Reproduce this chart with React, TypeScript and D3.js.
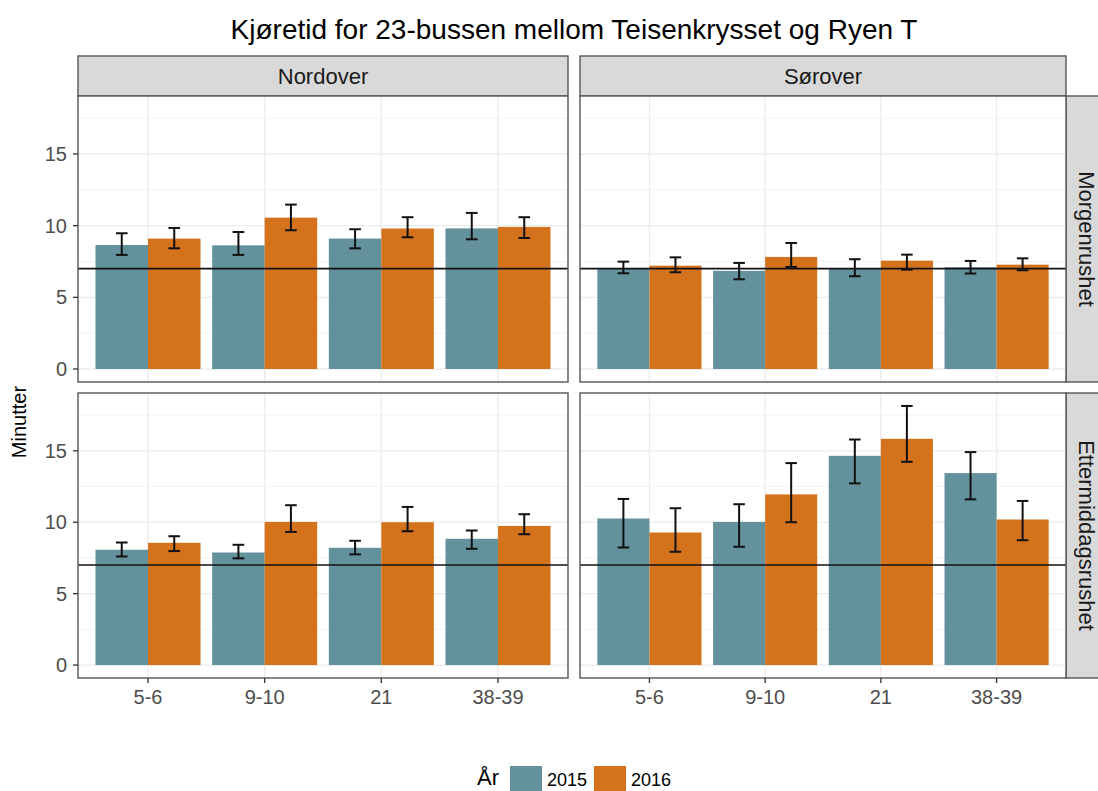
import React from "react";
import * as d3 from "d3";

const title = "Kjøretid for 23-bussen mellom Teisenkrysset og Ryen T";
const categories = ["5-6", "9-10", "21", "38-39"];
const directions = ["Nordover", "Sørover"];
const periods = ["Morgenrushet", "Ettermiddagsrushet"];
const years = ["2015", "2016"];
const referenceLine = 7;
const yTicks = [0, 5, 10, 15];
const yMinorTicks = [2.5, 7.5, 12.5, 17.5];

// Mean travel time (minutes): [direction][period][year]
const nordMorgen2015 = [8.65, 8.63, 9.1, 9.81];
const nordMorgen2016 = [9.1, 10.56, 9.8, 9.91];
const sorMorgen2015 = [7.05, 6.85, 7.02, 7.1];
const sorMorgen2016 = [7.21, 7.82, 7.56, 7.28];
const nordEtter2015 = [8.07, 7.88, 8.21, 8.84];
const nordEtter2016 = [8.56, 10.02, 10.0, 9.74];
const sorEtter2015 = [10.26, 10.02, 14.65, 13.44];
const sorEtter2016 = [9.28, 11.95, 15.84, 10.19];

// Error bar lower / upper
const nordMorgen2015Lo = [7.96, 7.96, 8.42, 9.05];
const nordMorgen2015Hi = [9.47, 9.56, 9.75, 10.89];
const nordMorgen2016Lo = [8.42, 9.68, 9.19, 9.14];
const nordMorgen2016Hi = [9.84, 11.47, 10.59, 10.59];
const sorMorgen2015Lo = [6.68, 6.26, 6.47, 6.66];
const sorMorgen2015Hi = [7.49, 7.4, 7.66, 7.54];
const sorMorgen2016Lo = [6.75, 7.12, 6.93, 6.89];
const sorMorgen2016Hi = [7.79, 8.79, 7.98, 7.72];
const nordEtter2015Lo = [7.6, 7.47, 7.75, 8.14];
const nordEtter2015Hi = [8.58, 8.42, 8.7, 9.42];
const nordEtter2016Lo = [7.98, 9.32, 9.37, 9.16];
const nordEtter2016Hi = [9.02, 11.19, 11.07, 10.56];
const sorEtter2015Lo = [8.23, 8.28, 12.72, 11.6];
const sorEtter2015Hi = [11.63, 11.26, 15.79, 14.91];
const sorEtter2016Lo = [7.93, 10.0, 14.23, 8.74];
const sorEtter2016Hi = [10.98, 14.14, 18.14, 11.49];

const panelData = [
  // row 0: Morgenrushet
  [
    { v: [nordMorgen2015, nordMorgen2016], lo: [nordMorgen2015Lo, nordMorgen2016Lo], hi: [nordMorgen2015Hi, nordMorgen2016Hi] },
    { v: [sorMorgen2015, sorMorgen2016], lo: [sorMorgen2015Lo, sorMorgen2016Lo], hi: [sorMorgen2015Hi, sorMorgen2016Hi] },
  ],
  // row 1: Ettermiddagsrushet
  [
    { v: [nordEtter2015, nordEtter2016], lo: [nordEtter2015Lo, nordEtter2016Lo], hi: [nordEtter2015Hi, nordEtter2016Hi] },
    { v: [sorEtter2015, sorEtter2016], lo: [sorEtter2015Lo, sorEtter2016Lo], hi: [sorEtter2015Hi, sorEtter2016Hi] },
  ],
];

const colors = ["#63929D", "#D5721C"];
const FONT = "'Liberation Sans', Arial, Helvetica, sans-serif";

const colX: [number, number][] = [
  [78, 568],
  [580, 1066],
];
const rowY: [number, number][] = [
  [96, 382],
  [393, 678],
];

export default function App() {
  const allHi = [
    ...nordMorgen2015Hi, ...nordMorgen2016Hi, ...sorMorgen2015Hi, ...sorMorgen2016Hi,
    ...nordEtter2015Hi, ...nordEtter2016Hi, ...sorEtter2015Hi, ...sorEtter2016Hi,
  ];
  const maxY = d3.max(allHi) as number;
  const pad = maxY * 0.05;
  const yDomain: [number, number] = [-pad, maxY + pad];

  const xScales = colX.map(([a, b]) =>
    d3.scalePoint<string>().domain(categories).range([a, b]).padding(0.6)
  );
  const yScales = rowY.map(([t, b]) => d3.scaleLinear().domain(yDomain).range([b, t]));

  const panels: React.ReactNode[] = [];
  rowY.forEach((ry, r) => {
    colX.forEach((cx, c) => {
      const x = xScales[c];
      const y = yScales[r];
      const step = x.step();
      const barW = step * 0.45;
      const capW = step * 0.1;
      const d = panelData[r][c];
      panels.push(
        <g key={`p${r}${c}`}>
          <rect x={cx[0]} y={ry[0]} width={cx[1] - cx[0]} height={ry[1] - ry[0]} fill="#fff" />
          {yMinorTicks.map((t) => (
            <line key={`mn${t}`} x1={cx[0]} x2={cx[1]} y1={y(t)} y2={y(t)} stroke="#F3F3F3" strokeWidth={1} />
          ))}
          {yTicks.map((t) => (
            <line key={`mj${t}`} x1={cx[0]} x2={cx[1]} y1={y(t)} y2={y(t)} stroke="#EBEBEB" strokeWidth={1.3} />
          ))}
          {categories.map((cat) => (
            <line key={`vx${cat}`} x1={x(cat)} x2={x(cat)} y1={ry[0]} y2={ry[1]} stroke="#EBEBEB" strokeWidth={1.3} />
          ))}
          {years.map((yr, yi) =>
            categories.map((cat, ci) => {
              const left = (x(cat) as number) - barW + yi * barW;
              const val = d.v[yi][ci];
              return (
                <rect
                  key={`b${yr}${cat}`}
                  x={left}
                  width={barW}
                  y={y(val)}
                  height={y(0) - y(val)}
                  fill={colors[yi]}
                />
              );
            })
          )}
          <line x1={cx[0]} x2={cx[1]} y1={y(referenceLine)} y2={y(referenceLine)} stroke="#111" strokeWidth={1.6} />
          {years.map((yr, yi) =>
            categories.map((cat, ci) => {
              const cxx = (x(cat) as number) - barW / 2 + yi * barW;
              const lo = y(d.lo[yi][ci]);
              const hi = y(d.hi[yi][ci]);
              return (
                <g key={`e${yr}${cat}`} stroke="#111" strokeWidth={2}>
                  <line x1={cxx} x2={cxx} y1={lo} y2={hi} />
                  <line x1={cxx - capW / 2} x2={cxx + capW / 2} y1={lo} y2={lo} />
                  <line x1={cxx - capW / 2} x2={cxx + capW / 2} y1={hi} y2={hi} />
                </g>
              );
            })
          )}
          <rect x={cx[0]} y={ry[0]} width={cx[1] - cx[0]} height={ry[1] - ry[0]} fill="none" stroke="#555" strokeWidth={1.4} />
        </g>
      );
    });
  });

  return (
    <svg
      width={1098}
      height={791}
      style={{ position: "absolute", left: 0, top: 0, background: "#fff" }}
      fontFamily={FONT}
    >
      <rect x={0} y={0} width={1098} height={791} fill="#fff" />
      <text x={574} y={39} textAnchor="middle" fontSize={28} fill="#000">
        {title}
      </text>

      {/* top strips */}
      {directions.map((dir, c) => (
        <g key={`s${dir}`}>
          <rect x={colX[c][0]} y={56} width={colX[c][1] - colX[c][0]} height={40} fill="#D9D9D9" stroke="#555" strokeWidth={1.4} />
          <text x={(colX[c][0] + colX[c][1]) / 2} y={84} textAnchor="middle" fontSize={22} fill="#1a1a1a">
            {dir}
          </text>
        </g>
      ))}

      {/* right strips */}
      {periods.map((per, r) => (
        <g key={`r${per}`}>
          <rect x={1066} y={rowY[r][0]} width={44} height={rowY[r][1] - rowY[r][0]} fill="#D9D9D9" stroke="#555" strokeWidth={1.4} />
          <text
            transform={`translate(1079, ${(rowY[r][0] + rowY[r][1]) / 2}) rotate(90)`}
            textAnchor="middle"
            fontSize={22}
            fill="#1a1a1a"
          >
            {per}
          </text>
        </g>
      ))}

      {panels}

      {/* y axes */}
      {rowY.map((ry, r) => (
        <g key={`ya${r}`}>
          {yTicks.map((t) => (
            <g key={t}>
              <line x1={73} x2={78} y1={yScales[r](t)} y2={yScales[r](t)} stroke="#333" strokeWidth={1.3} />
              <text x={67} y={yScales[r](t)} dy="0.35em" textAnchor="end" fontSize={20} fill="#4D4D4D">
                {t}
              </text>
            </g>
          ))}
        </g>
      ))}

      {/* x axes */}
      {colX.map((cx, c) => (
        <g key={`xa${c}`}>
          {categories.map((cat) => (
            <g key={cat}>
              <line x1={xScales[c](cat)} x2={xScales[c](cat)} y1={678} y2={683} stroke="#333" strokeWidth={1.3} />
              <text x={xScales[c](cat)} y={704} textAnchor="middle" fontSize={20} fill="#4D4D4D">
                {cat}
              </text>
            </g>
          ))}
        </g>
      ))}

      <text transform="translate(26, 422) rotate(-90)" textAnchor="middle" fontSize={20} fill="#000">
        Minutter
      </text>

      {/* legend */}
      <text x={477} y={785} fontSize={22} fill="#000">
        År
      </text>
      {years.map((yr, i) => {
        const kx = [510, 594][i];
        return (
          <g key={`lg${yr}`}>
            <rect x={kx} y={766} width={32} height={25} fill={colors[i]} />
            <text x={kx + 37} y={786} fontSize={18} fill="#000">
              {yr}
            </text>
          </g>
        );
      })}
    </svg>
  );
}
